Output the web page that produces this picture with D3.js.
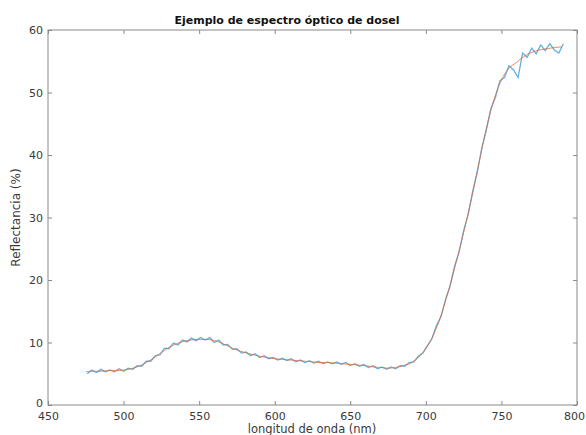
<!DOCTYPE html>
<html><head><meta charset="utf-8">
<script src="https://cdn.jsdelivr.net/npm/d3@7"></script>
<style>body{margin:0;background:#fff}svg{display:block}</style>
</head><body>
<svg id="c" width="586" height="435"></svg>
<script>
const title = "Ejemplo de espectro óptico de dosel";
const xLabel = "longitud de onda (nm)";
const yLabel = "Reflectancia (%)";
const xTicks = [450,500,550,600,650,700,750,800];
const yTicks = [0,10,20,30,40,50,60];

// measured (noisy) spectrum, every 3 nm from 476 nm
const measStart = 476, measStep = 3;
const measured = [5.0,5.6,5.2,5.7,5.3,5.6,5.3,5.8,5.4,5.9,5.7,6.3,6.2,7.0,7.0,7.9,8.0,9.1,9.0,9.9,
9.6,10.4,10.1,10.7,10.3,10.8,10.4,10.8,10.0,10.4,9.6,9.7,8.9,9.0,8.3,8.5,7.9,8.2,7.6,7.9,
7.4,7.6,7.2,7.5,7.1,7.4,6.9,7.2,6.8,7.1,6.7,7.0,6.6,6.9,6.6,6.9,6.5,6.8,6.3,6.6,
6.2,6.5,6.0,6.3,5.8,6.1,5.7,6.1,5.8,6.3,6.2,6.8,6.9,7.8,8.3,9.5,10.6,12.7,14.1,16.9,
19.0,22.2,24.5,27.9,30.5,34.2,37.2,41.1,44.0,47.4,49.2,51.9,52.4,54.3,53.6,52.4,56.3,55.6,57.1,56.2,
57.6,56.7,57.8,56.8,56.3,57.8];

// smoothed spectrum, every 5 nm from 475 nm
const smoothStart = 475, smoothStep = 5;
const smoothed = [5.3,5.4,5.4,5.5,5.5,5.6,5.8,6.2,6.8,7.5,8.4,9.2,9.8,10.2,10.4,10.5,10.5,10.3,9.9,9.3,
8.8,8.4,8.1,7.8,7.6,7.4,7.3,7.2,7.1,7.0,6.9,6.8,6.8,6.7,6.6,6.5,6.4,6.3,6.1,6.0,
5.9,6.0,6.3,6.7,7.6,9.0,11.2,14.3,18.3,22.8,27.6,32.8,38.6,44.2,48.8,52.0,53.9,54.8,55.8,56.4,
56.8,57.0,57.2,57.3];

const svg = d3.select("#c");
const L = 48, R = 577, T = 30, B = 405;
const x = d3.scaleLinear().domain([450,800]).range([L,R]);
const y = d3.scaleLinear().domain([0,60]).range([B,T]);
const font = "'DejaVu Sans', sans-serif";
const axisCol = "#8a8a8a", textCol = "#3a3a3a";

// box
svg.append("rect").attr("x",L).attr("y",T).attr("width",R-L).attr("height",B-T)
  .attr("fill","none").attr("stroke",axisCol).attr("stroke-width",1);

function styleAxis(g){
  g.select(".domain").remove();
  g.selectAll(".tick line").attr("stroke",axisCol);
  g.selectAll(".tick text").attr("fill",textCol).style("font-family",font).style("font-size","11px");
}
const gx = svg.append("g").attr("transform",`translate(0,${B})`)
  .call(d3.axisBottom(x).tickValues(xTicks).tickSizeInner(-4).tickSizeOuter(0).tickPadding(7))
  .call(styleAxis);
gx.selectAll(".tick text").filter(d=>d===800).attr("dx",-3);
svg.append("g").attr("transform",`translate(0,${T})`)
  .call(d3.axisTop(x).tickValues(xTicks).tickSizeInner(-4).tickSizeOuter(0).tickFormat(""))
  .call(styleAxis);
const gy = svg.append("g").attr("transform",`translate(${L},0)`)
  .call(d3.axisLeft(y).tickValues(yTicks).tickSizeInner(-4).tickSizeOuter(0).tickPadding(5))
  .call(styleAxis);
gy.selectAll(".tick text").filter(d=>d===0).attr("y",-2.5);
svg.append("g").attr("transform",`translate(${R},0)`)
  .call(d3.axisRight(y).tickValues(yTicks).tickSizeInner(-4).tickSizeOuter(0).tickFormat(""))
  .call(styleAxis);

const measData = measured.map((v,i)=>[measStart+i*measStep, v]);
const smoothData = smoothed.map((v,i)=>[smoothStart+i*smoothStep, v]);
const line = d3.line().x(d=>x(d[0])).y(d=>y(d[1]));

svg.append("path").datum(measData).attr("d",line)
  .attr("fill","none").attr("stroke","#4aa3dc").attr("stroke-width",1.3).attr("stroke-opacity",0.85);
svg.append("path").datum(smoothData).attr("d",line.curve(d3.curveMonotoneX))
  .attr("fill","none").attr("stroke","#e0622c").attr("stroke-width",0.9).attr("stroke-opacity",0.8);

svg.append("text").attr("x",287).attr("y",24).attr("text-anchor","middle")
  .style("font-family",font).style("font-size","11px").style("font-weight","bold").attr("fill","#111")
  .text(title);
svg.append("text").attr("x",312).attr("y",433).attr("text-anchor","middle")
  .style("font-family",font).style("font-size","11.5px").attr("fill",textCol).text(xLabel);
svg.append("text").attr("transform",`translate(20,${(T+B)/2}) rotate(-90)`).attr("text-anchor","middle")
  .style("font-family",font).style("font-size","12px").attr("fill",textCol).text(yLabel);
</script>
</body></html>
